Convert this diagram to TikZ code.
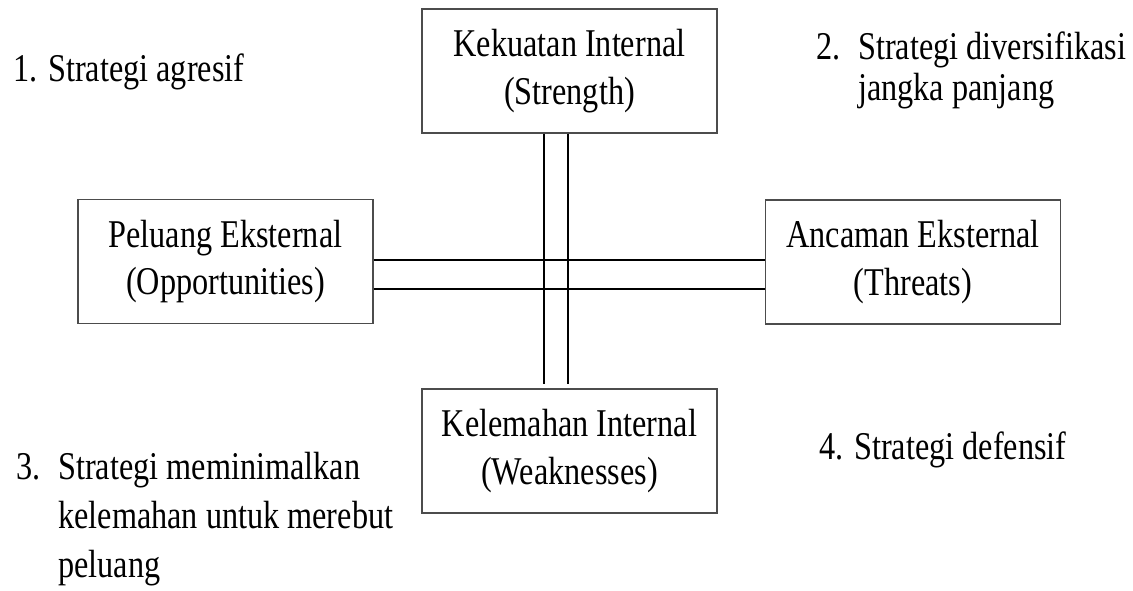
\documentclass[tikz,border=0pt]{standalone}
\usepackage{fontspec}
\setmainfont{Liberation Serif}[FakeStretch=0.82]
\begin{document}
\begin{tikzpicture}[x=0.75pt, y=-0.75pt,
    every node/.style={font=\fontsize{29.5}{35.5}\selectfont, inner sep=0pt},
    kotak/.style={draw=black!70, line width=0.8pt, minimum width=221.25pt,
        minimum height=93pt, align=center},
    garis/.style={line width=1.6pt}]
    \useasboundingbox (0,0) rectangle (1133,591);
    \node[kotak] (kuat) at (569.5,71) {Kekuatan Internal\\(Strength)};
    \node[kotak] (lemah) at (569.5,451) {Kelemahan Internal\\(Weaknesses)};
    \node[kotak] (peluang) at (225.5,261.5) {Peluang Eksternal\\(Opportunities)};
    \node[kotak] (ancaman) at (913,262) {Ancaman Eksternal\\(Threats)};
    \draw[garis] ([xshift=-19.1pt]kuat.south) -- ([xshift=-19.1pt,yshift=3pt]lemah.north);
    \draw[garis] ([xshift=-1.1pt]kuat.south) -- ([xshift=-1.1pt,yshift=3pt]lemah.north);
    \draw[garis] ([yshift=1.1pt]peluang.east) -- ([yshift=1.1pt]peluang.east -| ancaman.west);
    \draw[garis] ([yshift=-20.6pt]peluang.east) -- ([yshift=-20.6pt]peluang.east -| ancaman.west);
    \node[anchor=base west] (agresif) at (13,82) {1. Strategi agresif};
    \node[anchor=base west] (diversifikasi) at (816,60) {\fontsize{29.5}{30.5}\selectfont
        \begin{tabular}[t]{@{}p{31.5pt}@{}l@{}}2. & Strategi diversifikasi\\ & jangka panjang\end{tabular}};
    \node[anchor=base west] (minimal) at (16,480) {\fontsize{29.5}{36.75}\selectfont
        \begin{tabular}[t]{@{}p{31.5pt}@{}l@{}}3. & Strategi meminimalkan\\ & kelemahan untuk merebut\\ & peluang\end{tabular}};
    \node[anchor=base west] (defensif) at (819,460) {4. Strategi defensif};
\end{tikzpicture}
\end{document}
